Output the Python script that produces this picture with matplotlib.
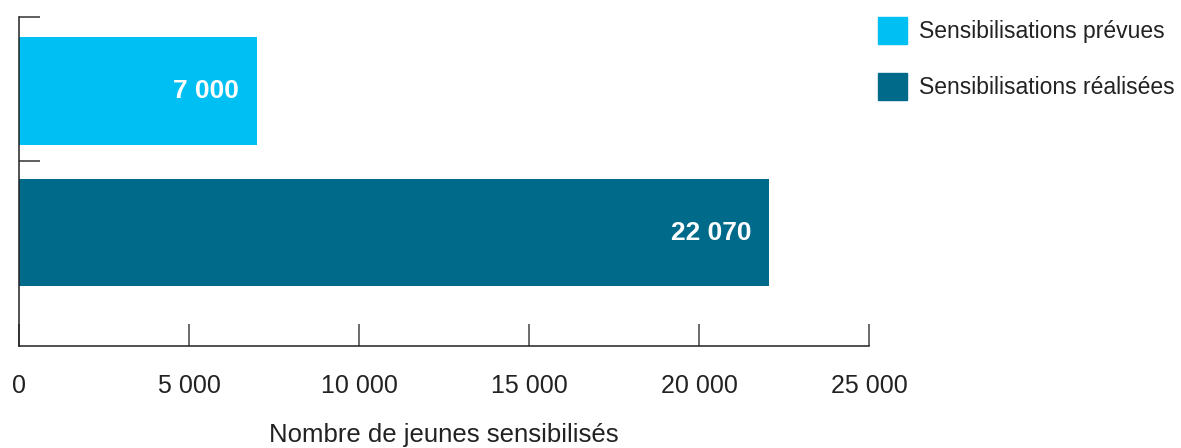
import matplotlib
matplotlib.use("Agg")
import matplotlib.pyplot as plt

series = ["Sensibilisations prévues", "Sensibilisations réalisées"]
values = [7000, 22070]
value_labels = ["7 000", "22 070"]
colors = ["#00C0F3", "#006A8B"]
xticks = [0, 5000, 10000, 15000, 20000, 25000]
xtick_labels = ["0", "5 000", "10 000", "15 000", "20 000", "25 000"]
xlabel = "Nombre de jeunes sensibilisés"

plt.rcParams['font.family'] = ['Liberation Sans', 'DejaVu Sans']

fig = plt.figure(figsize=(11.81, 4.48), dpi=100)
ax = fig.add_axes([19/1181, 1-346/448, 850/1181, 329/448])

pos = list(range(len(values)))
bars = ax.barh(pos, values, height=0.763, color=colors)
for b, lab in zip(bars, value_labels):
    ax.text(b.get_width() - 530, b.get_y() + b.get_height()/2, lab,
            ha='right', va='center', color='white', fontsize=19, fontweight='bold')

ax.set_xlim(0, 25000)
ax.set_ylim(1.802, -0.523)

ax.set_xticks(xticks)
ax.set_xticklabels(xtick_labels, fontsize=18, color='#222222')
ax.tick_params(axis='x', direction='in', length=16, width=1.1, color='#444444', pad=20)
ax.set_yticks([-0.52, 0.495])
ax.set_yticklabels([])
ax.tick_params(axis='y', direction='in', length=15, width=1.1, color='#333333')

for s in ['top', 'right']:
    ax.spines[s].set_visible(False)
for s in ['left', 'bottom']:
    ax.spines[s].set_color('#222222')
    ax.spines[s].set_linewidth(1.1)

ax.set_xlabel(xlabel, fontsize=18.5, color='#222222', labelpad=18)

handles = [plt.Rectangle((0, 0), 1, 1, color=c) for c in colors]
fig.legend(handles, series, loc='upper left', bbox_to_anchor=(878/1181, 1-17/448),
           frameon=False, fontsize=16.5, handlelength=1.27, handleheight=1.42,
           handletextpad=0.5, labelspacing=1.27, borderpad=0, borderaxespad=0,
           labelcolor='#222222')

fig.savefig("out.png", dpi=100)
